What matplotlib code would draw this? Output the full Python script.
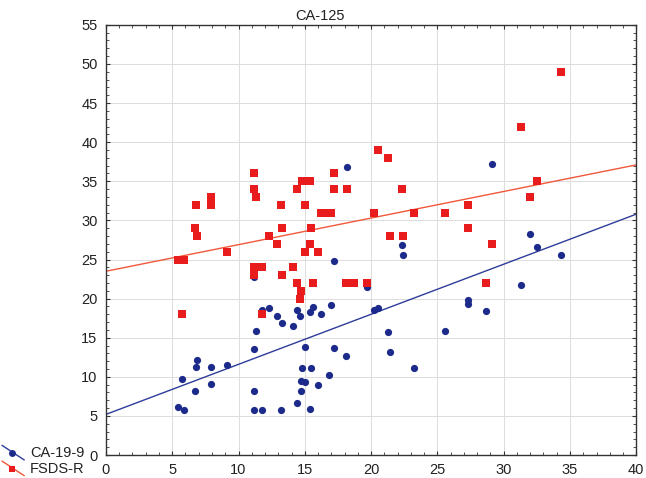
import numpy as np
import matplotlib
matplotlib.use('Agg')
import matplotlib.pyplot as plt
from matplotlib.ticker import AutoMinorLocator, MultipleLocator
from matplotlib.lines import Line2D
from matplotlib.legend_handler import HandlerBase

plt.rcParams['font.family'] = ['Liberation Sans', 'DejaVu Sans']

# CA-125 vs CA-19-9 (blue circles)
ca199_x = [18.2, 29.1, 22.3, 22.4, 32.0, 32.5, 34.3, 17.2, 19.7, 31.3, 27.3, 27.3, 28.7,
           11.2, 11.8, 12.3, 12.9, 13.3, 14.1, 14.4, 14.6, 15.4, 15.6, 16.2, 17.0, 20.2,
           20.5, 11.3, 11.2, 6.9, 6.8, 7.9, 9.1, 5.7, 6.7, 7.9, 5.4, 5.9, 11.2, 11.2,
           11.8, 13.2, 14.4, 15.4, 14.7, 14.7, 15.0, 14.8, 15.5, 15.0, 16.0, 16.8, 17.2,
           18.1, 21.3, 25.6, 21.4, 23.2]
ca199_y = [36.8, 37.2, 26.8, 25.6, 28.2, 26.6, 25.6, 24.8, 21.5, 21.7, 19.8, 19.3, 18.4,
           22.8, 18.6, 18.8, 17.8, 16.9, 16.5, 18.5, 17.8, 18.3, 18.9, 18.0, 19.2, 18.5,
           18.8, 15.8, 13.6, 12.2, 11.3, 11.2, 11.5, 9.7, 8.2, 9.1, 6.2, 5.8, 8.2, 5.8,
           5.8, 5.8, 6.6, 5.9, 8.2, 9.5, 9.3, 11.1, 11.1, 13.8, 9.0, 10.2, 13.7,
           12.7, 15.7, 15.8, 13.2, 11.1]

# CA-125 vs FSDS-R (red squares)
fsds_x = [34.3, 31.3, 20.5, 21.3, 11.2, 17.2, 14.8, 15.4, 32.5, 11.2, 14.4, 17.2, 18.2,
          22.3, 11.3, 7.9, 32.0, 6.8, 7.9, 13.2, 15.0, 27.3, 16.2, 16.8, 17.0, 20.2,
          23.2, 25.6, 6.7, 13.3, 15.5, 27.3, 6.9, 12.3, 21.4, 22.4, 12.9, 15.4, 29.1,
          9.1, 15.0, 16.0, 5.4, 5.7, 5.9, 11.2, 11.8, 14.1, 11.2, 13.3, 14.4, 15.6,
          18.1, 18.7, 19.7, 28.7, 14.7, 14.6, 5.7, 11.8]
fsds_y = [49, 42, 39, 38, 36, 36, 35, 35, 35, 34, 34, 34, 34,
          34, 33, 33, 33, 32, 32, 32, 32, 32, 31, 31, 31, 31,
          31, 31, 29, 29, 29, 29, 28, 28, 28, 28, 27, 27, 27,
          26, 26, 26, 25, 25, 25, 24, 24, 24, 23, 23, 22, 22,
          22, 22, 22, 22, 21, 20, 18, 18]

# regression lines (intercept, slope)
ca199_fit = (5.2, 0.64)
fsds_fit = (23.5, 0.34)

blue = '#1c2a8c'
blue_line = '#2e3c99'
red = '#e81c1c'
red_line = '#f0583a'


class DiagHandler(HandlerBase):
    # statistica-style legend key: sloping line with the marker in the middle
    def create_artists(self, legend, orig, xd, yd, width, height, fontsize, trans):
        ln = Line2D([xd, xd + width], [yd + height + 1, yd - 2],
                    color=orig.get_color(), lw=1, transform=trans)
        mk = Line2D([xd + width * 0.45], [yd + height * 0.4], marker=orig.get_marker(),
                    color=orig.get_markerfacecolor(), ms=5, mew=0, ls='', transform=trans)
        return [ln, mk]


fig = plt.figure(figsize=(6.46, 4.78), dpi=100)
ax = fig.add_axes([0.164, 0.048, 0.821, 0.900])

xx = np.array([0, 40])
ax.plot(xx, ca199_fit[0] + ca199_fit[1] * xx, color=blue_line, lw=1, zorder=2)
ax.plot(xx, fsds_fit[0] + fsds_fit[1] * xx, color=red_line, lw=1, zorder=2)
ax.plot(ca199_x, ca199_y, 'o', color=blue, ms=5.2, mew=0, zorder=3)
ax.plot(fsds_x, fsds_y, 's', color=red, ms=5.2, mew=0, zorder=4)

ax.set_xlim(0, 40)
ax.set_ylim(0, 55)
ax.xaxis.set_major_locator(MultipleLocator(5))
ax.yaxis.set_major_locator(MultipleLocator(5))
ax.xaxis.set_minor_locator(AutoMinorLocator(5))
ax.yaxis.set_minor_locator(AutoMinorLocator(5))
ax.tick_params(which='both', direction='in', top=True, right=True, labelsize=10.5,
               color='#333333', labelcolor='#222222')
ax.tick_params(which='major', length=3, pad=6)
ax.tick_params(which='minor', length=2)
ax.grid(True, which='major', color='#dcdcdc', lw=0.7)
for s in ax.spines.values():
    s.set_color('#333333')
    s.set_linewidth(1)

fig.text(0.495, 0.982, 'CA-125', ha='center', va='top', fontsize=10.5, color='#222222')

handles = [Line2D([], [], color=blue_line, marker='o', markerfacecolor=blue),
           Line2D([], [], color=red_line, marker='s', markerfacecolor=red)]
fig.legend(handles, ['CA-19-9', 'FSDS-R'], loc='lower left', bbox_to_anchor=(0.0, 0.0),
           frameon=False, fontsize=10.5, handlelength=1.5, handletextpad=0.4,
           labelspacing=0.12, borderpad=0.0, borderaxespad=0.15,
           handler_map={Line2D: DiagHandler()}, labelcolor='#222222')

fig.savefig('out.png', dpi=100)
